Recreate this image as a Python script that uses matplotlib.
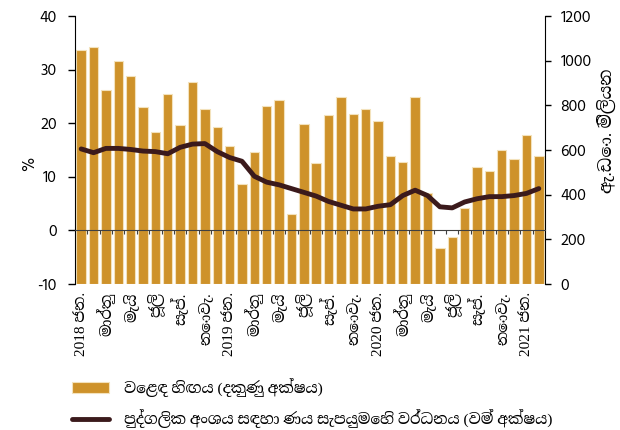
import matplotlib
matplotlib.use("Agg")
import matplotlib.pyplot as plt
import numpy as np

plt.rcParams["axes.unicode_minus"] = False

# monthly data, 2018 Jan - 2021 Feb
months = ["ජන.", "පෙබ.", "මාර්තු", "අප්‍රේල්", "මැයි", "ජූනි",
          "ජූලි", "අගෝ.", "සැප්.", "ඔක්.", "නොවැ.", "දෙසැ."]
years = [2018, 2019, 2020, 2021]

# trade deficit, US$ mn (right axis)
deficit = [1048, 1062, 869, 997, 932, 793, 680, 850, 711, 903, 784, 701,
           617, 450, 592, 798, 824, 315, 716, 540, 757, 838, 762, 784,
           729, 574, 547, 839, 407, 161, 209, 341, 525, 507, 599, 561,
           666, 573]
# private sector credit growth, % (left axis)
credit = [15.2, 14.5, 15.3, 15.3, 15.1, 14.8, 14.7, 14.3, 15.5, 16.1, 16.2, 14.7,
          13.6, 12.9, 10.1, 9.0, 8.5, 7.8, 7.1, 6.4, 5.4, 4.7, 4.0, 4.0,
          4.5, 4.8, 6.5, 7.5, 6.5, 4.4, 4.2, 5.3, 5.9, 6.3, 6.3, 6.5,
          6.9, 7.8]

bar_label = "වෙළඳ හිඟය (දකුණු අක්ෂය)"
line_label = "පුද්ගලික අංශය සඳහා ණය සැපයුමෙහි වර්ධනය (වම් අක්ෂය)"
right_label = "ඇ.ඩො. මිලියන"

num_font = ["Hind Colombo", "DejaVu Sans"]
sin_font = ["Liberation Serif", "Noto Serif Sinhala", "DejaVu Sans"]

n = len(deficit)
x = np.arange(n)
ticklabels = []
for i in range(0, n, 2):
    m = months[i % 12]
    if i % 12 == 0:
        m = "%d %s" % (years[i // 12], m)
    ticklabels.append(m)

fig = plt.figure(figsize=(6.2, 4.3), dpi=100)
ax = fig.add_axes([75 / 620, 1 - 284 / 430, 470 / 620, 268 / 430])
ax2 = ax.twinx()
ax.set_zorder(ax2.get_zorder() + 1)
ax.patch.set_visible(False)

bars = ax2.bar(x, deficit, width=0.76, color="#CE922A", edgecolor="#F3E2BC",
               linewidth=0.8, label=bar_label)
line, = ax.plot(x, credit, color="#3B1A1C", linewidth=3.5,
                solid_capstyle="round", label=line_label)

ax.set_xlim(-0.5, n - 0.5)
ax.set_ylim(-10, 40)
ax2.set_ylim(0, 1200)
ax.set_yticks(range(-10, 41, 10))
ax2.set_yticks(range(0, 1201, 200))

ax.set_xticks(x[::2])
ax.set_xticklabels(ticklabels)
ax.set_xticks(np.arange(0.5, n - 1, 1), minor=True)

# zero line with the small ticks
ax.spines["bottom"].set_position(("data", 0))
ax.spines["bottom"].set_color("#404040")
ax.spines["top"].set_visible(False)
ax.spines["right"].set_visible(False)
ax.tick_params(axis="x", which="major", length=0, labelbottom=False)
ax.tick_params(axis="x", which="minor", length=3, color="#404040", width=0.8)
ax.tick_params(axis="y", length=5, width=1, pad=8, labelsize=11.5)

for s in ["top", "bottom", "left"]:
    ax2.spines[s].set_visible(False)
ax2.xaxis.set_visible(True)
ax2.tick_params(axis="x", which="major", length=0, pad=6, labelbottom=True,
                labelrotation=90)
ax2.tick_params(axis="x", which="minor", length=0)
ax2.tick_params(axis="y", length=4, width=1, pad=7, labelsize=11.5)
for t in ax2.get_xticklabels():
    t.set_family(sin_font)
    t.set_fontsize(11)
    t.set_va("top")
    t.set_ha("center")
for t in ax.get_yticklabels() + ax2.get_yticklabels():
    t.set_family(num_font)

ax.set_ylabel("%", family=num_font, fontsize=12)
ax.yaxis.set_label_coords(-0.08, 0.45)
ax2.set_ylabel(right_label, family=sin_font, fontsize=12.5, rotation=90)
ax2.yaxis.set_label_coords(1.11, 0.57)

fig.legend(handles=[bars, line], loc="upper left",
           bbox_to_anchor=(72 / 620, 1 - 378 / 430), frameon=False,
           prop={"family": sin_font, "size": 11}, handlelength=2.4,
           handleheight=0.7, handletextpad=1.0, labelspacing=0.8,
           borderpad=0, borderaxespad=0)

fig.savefig("out.png", dpi=100)
